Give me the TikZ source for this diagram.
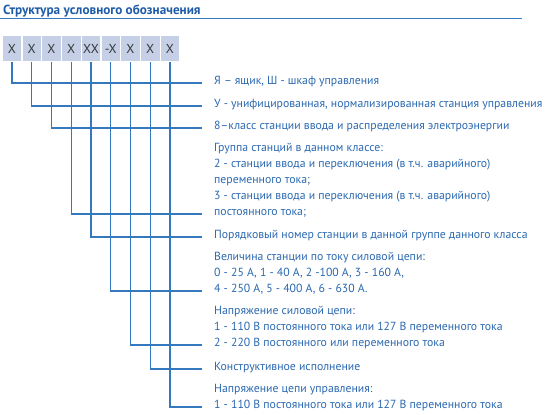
\documentclass[tikz,border=0pt]{standalone}
\usepackage{fontspec}
\setmainfont{PT Sans}
\usepackage{xcolor}
\usetikzlibrary{positioning}
\definecolor{linkblue}{RGB}{52,120,192}
\definecolor{textblue}{RGB}{42,104,176}
\definecolor{titleblue}{RGB}{31,92,168}
\definecolor{cellfill}{RGB}{197,208,230}
\definecolor{cellink}{RGB}{55,55,60}
\tikzset{
  cell/.style={fill=cellfill,minimum width=18.5pt,minimum height=25pt,inner sep=0pt,text=cellink,font=\fontsize{13}{14}\selectfont},
  conn/.style={draw=linkblue,line width=1.2pt},
  lbl/.style={text=textblue,align=left,inner sep=0pt,anchor=base west,font=\fontsize{11.75}{16}\selectfont},
}
\begin{document}
\begin{tikzpicture}[x=1pt,y=-1pt]
      \useasboundingbox (0,0) rectangle (550,415);
      \node[titleblue,anchor=base west,inner sep=0pt,font=\bfseries\fontsize{13.2}{16}\selectfont] (title) at (3,14) {Структура условного обозначения};
      \draw[linkblue,line width=1.6pt] (0,18.5) -- (522,18.5);
      \foreach \i/\t in {1/X,2/X,3/X,4/X,5/XX,6/-X,7/X,8/X,9/X}
        \node[cell] (b\i) at ({12+19.75*(\i-1)},48.5) {\t};
      \foreach \i/\y in {1/83,2/106,3/128,4/214,5/237,6/291,7/345,8/369,9/407} {
        \coordinate (e\i) at (202,\y);
        \draw[conn] ([yshift=-1pt]b\i.south) |- (e\i);
      }
      \node[lbl] (t1) at ([xshift=12pt,yshift=-1.5pt]e1) {Я – ящик, Ш - шкаф управления};
      \node[lbl] (t2) at ([xshift=12pt,yshift=-1.5pt]e2) {У - унифицированная, нормализированная станция управления};
      \node[lbl] (t3) at ([xshift=12pt,yshift=-1.5pt]e3) {8–класс станции ввода и распределения электроэнергии};
      \node[lbl] (t4) at ([xshift=12pt,yshift=-1.5pt]e4) {Группа станций в данном классе:\\2 - станции ввода и переключения (в т.ч. аварийного)\\переменного тока;\\3 - станции ввода и переключения (в т.ч. аварийного)\\постоянного тока;};
      \node[lbl] (t5) at ([xshift=12pt,yshift=-1.5pt]e5) {Порядковый номер станции в данной группе данного класса};
      \node[lbl] (t6) at ([xshift=12pt,yshift=-1.5pt]e6) {Величина станции по току силовой цепи:\\0 - 25 А, 1 - 40 А, 2 -100 А, 3 - 160 А,\\4 - 250 А, 5 - 400 А, 6 - 630 А.};
      \node[lbl] (t7) at ([xshift=12pt,yshift=-1.5pt]e7) {Напряжение силовой цепи:\\1 - 110 В постоянного тока или 127 В переменного тока\\2 - 220 В постоянного или переменного тока};
      \node[lbl] (t8) at ([xshift=12pt,yshift=-1.5pt]e8) {Конструктивное исполнение};
      \node[lbl] (t9) at ([xshift=12pt,yshift=-1.5pt]e9) {Напряжение цепи управления:\\1 - 110 В постоянного тока или 127 В переменного тока};
\end{tikzpicture}
\end{document}
